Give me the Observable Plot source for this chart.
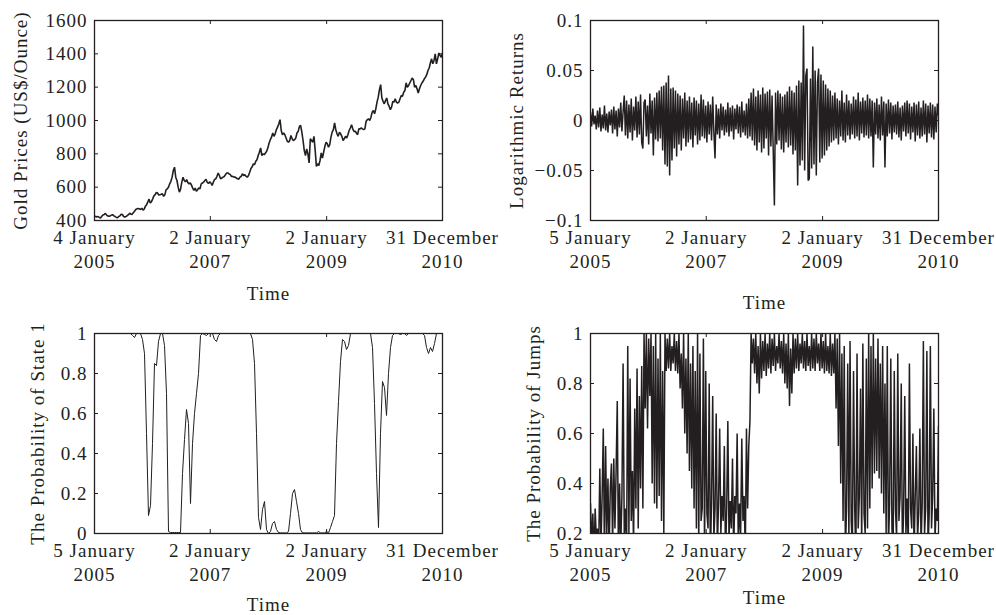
<!DOCTYPE html>
<html><head><meta charset="utf-8">
<script src="https://cdn.jsdelivr.net/npm/d3@7"></script>
<script src="https://cdn.jsdelivr.net/npm/@observablehq/plot@0.6"></script>
<style>
body{margin:0;background:#fff;}
#chart{position:relative;width:996px;height:615px;background:#fff;overflow:hidden;}
.panel{position:absolute;}
</style></head><body><div id="chart"></div>
<script>
// Gold price (US$/ounce), roughly weekly samples, 4 Jan 2005 – 31 Dec 2010
const goldPrices = [
427,423,422,424, 418,415,425,433, 436,443,432,427, 426,427,433,435, 428,424,418,417, 424,428,438,436, 424,421,424,429, 435,444,438,437, 446,455,466,470, 472,470,466,474, 462,468,486,495, 512,528,505,513,
530,548,555,568, 565,553,555,557, 560,545,554,584, 590,600,620,635, 660,700,720,660, 640,600,570,588, 630,660,640,632, 645,627,620,625, 612,594,580,595, 575,585,595,590, 620,625,630,640, 647,628,622,632,
625,610,630,646, 650,665,685,670, 650,655,660,664, 675,685,685,680, 675,664,665,660, 660,655,650,648, 660,665,680,670, 675,665,660,670, 690,712,722,740, 735,755,765,790, 810,835,790,800, 795,805,815,836,
865,885,900,925, 905,920,945,960, 980,1005,940,915, 925,915,895,875, 870,880,910,890, 880,885,895,925, 935,965,970,930, 880,820,790,830, 800,745,890,880, 870,905,820,725, 740,730,760,805, 775,810,845,870,
860,840,855,900, 930,945,985,945, 920,905,930,920, 905,880,890,905, 895,915,940,955, 975,950,935,935, 925,915,950,950, 955,950,945,950, 995,1005,1010,1000, 1020,1050,1060,1040, 1070,1110,1140,1185, 1215,1135,1115,1100,
1120,1135,1100,1085, 1065,1080,1115,1110, 1130,1110,1105,1110, 1130,1150,1145,1170, 1180,1225,1200,1210, 1225,1240,1255,1245, 1200,1210,1190,1165, 1190,1210,1225,1235, 1250,1260,1275,1300, 1315,1345,1370,1340, 1360,1400,1340,1370, 1405,1390,1380,1405
];
// Logarithmic returns, evenly sampled 5 Jan 2005 – 31 Dec 2010
const logReturns = [
0.008,-0.006,0.012,-0.004,0.005,-0.009,0.010,-0.007,0.013,-0.011,
0.006,-0.008,0.015,-0.010,0.007,-0.012,0.009,-0.005,0.011,-0.013,
0.014,-0.009,0.010,-0.016,0.012,-0.007,0.018,-0.011,0.009,
0.025,-0.015,0.020,-0.018,0.016,-0.012,0.022,-0.020,0.014,-0.010,
0.024,-0.017,0.019,-0.014,0.026,-0.022,-0.028,0.018,0.021,-0.016,
0.015,-0.024,0.027,-0.013,0.020,-0.035,0.023,-0.019,0.028,-0.021,
0.030,-0.018,
0.034,-0.030,0.035,-0.044,0.038,-0.046,0.045,-0.055,0.032,-0.040,
0.033,-0.028,0.030,-0.036,0.027,
-0.024,0.025,-0.030,0.022,-0.018,0.028,-0.026,0.020,-0.022,0.024,
-0.019,0.018,-0.027,0.023,-0.015,0.020,-0.024,0.017,-0.020,0.026,
-0.016,0.021,-0.018,0.015,-0.022,0.019,-0.014,0.016,-0.020,0.024,
-0.012,
-0.038,0.016,-0.014,0.012,-0.018,0.017,-0.010,0.014,-0.015,0.011,
-0.012,0.018,-0.016,0.013,-0.011,0.015,-0.019,0.012,-0.009,0.016,
-0.013,0.014,-0.017,0.019,-0.012,0.010,-0.015,0.017,-0.018,0.022,
-0.016,
0.028,-0.020,0.032,-0.025,0.024,-0.030,0.030,-0.022,0.026,-0.032,
0.033,-0.028,0.027,-0.018,0.029,-0.035,0.031,-0.026,0.025,-0.030,
-0.085,0.028,-0.024,0.030,-0.020,0.027,-0.029,0.024,-0.032,0.026,
-0.022,0.029,-0.027,0.034,-0.025,0.030,-0.034,0.028,-0.030,0.035,
-0.065,
0.040,-0.045,0.038,-0.040,0.095,-0.050,0.045,0.052,-0.060,-0.058,
0.042,-0.048,0.074,-0.044,0.050,-0.055,0.038,0.052,-0.042,0.046,
-0.038,0.040,-0.035,0.036,-0.030,0.032,
-0.026,0.030,-0.022,0.025,-0.020,0.028,-0.018,0.022,-0.024,0.020,
-0.016,0.030,-0.020,0.018,-0.022,0.026,-0.015,0.020,-0.019,0.017,
-0.014,0.024,-0.018,0.021,-0.016,0.028,-0.020,0.019,-0.013,0.023,
-0.017,0.020,-0.015,0.026,-0.018,0.022,
-0.016,0.020,-0.047,0.018,-0.014,0.022,-0.018,0.016,-0.020,0.024,
-0.015,0.019,-0.047,0.017,-0.016,0.021,-0.013,0.018,-0.019,0.015,
-0.012,0.016,-0.014,0.019,-0.017,0.013,-0.020,0.015,-0.011,0.018,
-0.016,0.020,-0.013,0.017,-0.019,0.014,-0.012,0.018,-0.021,0.016,
-0.015,0.019,-0.018,0.013,-0.016,0.020,-0.014,0.017,-0.022,0.015,
-0.013,0.018,-0.017,0.016,-0.019,0.014,-0.012,0.017,0.005
];
// Probability of state 1, evenly sampled
const probState1 = [
1,1,1,1,1,1,1,1,1,1,
1,1,1,1,1,1,1,1,1,0.99,
0.98,1,1,1,0.97,0.9,0.5,0.09,0.14,0.45,
0.85,0.84,0.96,1,1,0.94,0.7,0.01,0.005,0.005,
0.005,0.005,0.005,0.005,0.3,0.47,0.62,0.55,0.15,0.45,
0.6,0.7,0.8,0.99,1,0.995,0.99,1,1,1,
0.97,0.96,0.99,1,1,1,1,1,1,1,
1,1,1,1,1,1,1,1,1,0.97,
0.85,0.5,0.08,0.02,0.12,0.16,0.02,0,0.01,0.05,
0.06,0.02,0.005,0.003,0.003,0.003,0.003,0.01,0.1,0.2,
0.22,0.16,0.1,0.02,0.003,0.003,0.003,0.003,0.003,0.003,
0.003,0.003,0.01,0.003,0.003,0.003,0.01,0.003,0.03,0.06,
0.09,0.45,0.66,0.86,0.97,0.96,0.92,0.94,1,1,
1,1,1,1,1,1,1,1,1,0.93,
0.65,0.3,0.03,0.5,0.76,0.73,0.59,0.8,0.93,0.99,
1,1,1,0.995,1,1,0.99,1,1,1,
1,1,1,1,1,0.99,0.93,0.9,0.93,0.91,
0.95,1,1,1,1
];
// Probability of jumps, evenly sampled
const probJumps = [
0.32,0.15,0.28,0.10,0.30,0.18,0.22,0.12,0.46,0.15,
0.35,0.62,0.10,0.55,0.20,0.42,0.12,0.38,0.48,0.15,
0.50,0.22,0.45,0.73,0.10,0.40,0.15,0.35,0.88,0.20,
0.30,0.12,0.95,0.20,0.82,0.25,0.45,0.15,0.70,0.30,
0.86,0.22,0.75,0.38,0.87,0.30,
1.0,0.70,1.0,0.62,0.98,0.75,1.0,0.40,0.95,0.32,
1.0,0.30,0.90,0.35,1.0,0.25,0.85,0.20,
1.0,0.85,0.98,0.86,1.0,0.85,0.95,0.88,1.0,0.85,
0.97,0.84,1.0,0.78,0.92,0.70,1.0,0.60,0.90,0.52,
1.0,0.45,0.88,0.38,0.95,0.30,0.85,0.22,
1.0,0.15,0.92,0.25,0.30,0.98,0.12,0.85,0.28,0.22,
0.80,0.10,0.33,0.75,0.18,0.30,0.68,0.14,0.32,0.62,
0.20,0.35,0.25,0.55,0.10,0.30,0.65,0.18,0.33,0.22,
0.50,0.12,0.35,0.28,0.60,0.15,0.32,0.20,0.58,0.25,
0.35,0.12,0.62,0.30,0.55,0.65,
1.0,0.88,0.98,0.84,1.0,0.80,0.95,0.76,1.0,0.82,
0.97,0.85,1.0,0.83,0.96,0.86,1.0,0.84,0.98,0.87,
1.0,0.85,0.95,0.88,1.0,0.86,0.97,0.84,1.0,0.80,
0.96,0.78,1.0,0.71,0.94,0.76,1.0,0.84,0.98,0.86,
1.0,0.85,0.96,0.88,1.0,0.86,0.97,0.85,1.0,0.87,
0.95,0.85,1.0,0.86,0.98,0.85,1.0,0.88,0.96,0.85,
1.0,0.86,0.97,0.84,1.0,0.85,0.95,0.84,1.0,0.83,0.96,0.84,
1.0,0.70,0.98,0.55,1.0,0.40,0.92,0.25,
0.95,0.12,0.30,0.88,0.18,0.97,0.25,0.15,0.85,0.30,
0.10,0.92,0.22,0.35,0.78,0.14,0.96,0.28,0.20,0.90,
0.22,1.0,0.30,0.95,0.38,1.0,0.44,0.90,0.45,0.98,
0.42,0.88,0.36,0.95,0.28,0.80,0.20,
0.95,0.15,0.32,0.90,0.22,0.12,0.85,0.30,0.18,0.92,
0.25,0.35,0.80,0.12,0.28,0.75,0.20,0.34,0.15,0.88,
0.30,0.22,0.60,0.12,0.35,0.55,0.18,0.28,0.62,0.15,
0.32,0.97,0.20,0.30,0.93,0.14,0.28,0.95,0.22,0.35,
0.70,0.18,0.30,0.25,0.63
];
const goldStart = "2005-01-04";
const returnsStart = "2005-01-05";
const seriesEnd = "2010-12-31";
const innerTickDates = ["2007-01-02", "2009-01-02", "2010-12-31"];
const goldXLabels = ["4 January\n2005", "2 January\n2007", "2 January\n2009", "31 December\n2010"];
const otherXLabels = ["5 January\n2005", "2 January\n2007", "2 January\n2009", "31 December\n2010"];
const goldYTicks = [400, 600, 800, 1000, 1200, 1400, 1600];
const returnYTicks = [-0.1, -0.05, 0, 0.05, 0.1];
const state1YTicks = [0, 0.2, 0.4, 0.6, 0.8, 1];
const jumpsYTicks = [0.2, 0.4, 0.6, 0.8, 1];
const yLabels = ["Gold Prices (US$/Ounce)", "Logarithmic Returns", "The Probability of State 1", "The Probability of Jumps"];
const xLabel = "Time";

const ink = "#231f20";
const FONT = "'Liberation Serif', 'Times New Roman', serif";
const fmt = d => (d < 0 ? "\u2212" : "") + Math.abs(d);

function toSeries(values, start, end) {
  const t0 = +new Date(start), t1 = +new Date(end), n = values.length;
  return values.map((v, i) => ({date: new Date(t0 + i * (t1 - t0) / (n - 1)), value: v}));
}

function panel(o) {
  const t0 = new Date(o.start), t1 = new Date(seriesEnd);
  const xTicks = [t0, ...innerTickDates.map(d => new Date(d))];
  const labelMap = new Map(xTicks.map((d, i) => [+d, o.xLabels[i]]));
  const [y0, y1] = o.yDomain;
  const plotW = 348, plotH = 200;
  const dxT = (t1 - t0) * 4 / plotW, dyT = (y1 - y0) * 4 / plotH;
  const series = toSeries(o.values, o.start, seriesEnd);
  const svg = Plot.plot({
    width: o.width, height: o.height,
    marginLeft: 94, marginRight: o.width - 94 - plotW, marginTop: o.mt, marginBottom: o.height - o.mt - plotH,
    style: {fontFamily: FONT, fontSize: "19px", letterSpacing: "1px", background: "none", overflow: "visible", color: ink},
    x: {type: "utc", domain: [t0, t1]},
    y: {domain: o.yDomain},
    marks: [
      Plot.line(series, {x: "date", y: "value", stroke: ink, strokeWidth: o.sw, clip: true, strokeLinejoin: "miter"}),
      Plot.ruleX(xTicks, {x: d => d, y1: y0, y2: y0 + dyT, stroke: ink}),
      Plot.ruleX(xTicks, {x: d => d, y1: y1 - dyT, y2: y1, stroke: ink}),
      Plot.ruleY(o.yTicks, {y: d => d, x1: t0, x2: new Date(+t0 + dxT), stroke: ink}),
      Plot.ruleY(o.yTicks, {y: d => d, x1: new Date(+t1 - dxT), x2: t1, stroke: ink}),
      Plot.frame({stroke: ink, strokeWidth: 1.3}),
      Plot.axisX({ticks: xTicks, tickFormat: d => labelMap.get(+d), tickSize: 0, tickPadding: 5.5, lineHeight: 1.3, fontSize: 19, fill: ink, label: null}),
      Plot.axisY({ticks: o.yTicks, tickFormat: fmt, tickSize: 0, tickPadding: 7, fontSize: 19, fill: ink, label: null}),
      Plot.text([o.yLabel], {text: d => d, frameAnchor: "left", dx: -o.labelDx, rotate: -90, textAnchor: "middle", lineAnchor: "middle", fontSize: 19, fill: ink}),
      Plot.text([xLabel], {text: d => d, frameAnchor: "bottom", dy: o.timeDy, textAnchor: "middle", lineAnchor: "middle", fontSize: 19, fill: ink})
    ]
  });
  const wrap = document.createElement("div");
  wrap.className = "panel";
  wrap.style.left = o.left + "px";
  wrap.style.top = o.top + "px";
  wrap.style.width = o.width + "px";
  wrap.style.height = o.height + "px";
  wrap.appendChild(svg);
  document.getElementById("chart").appendChild(wrap);
}

panel({values: goldPrices, start: goldStart, yDomain: [400, 1600], yTicks: goldYTicks, yLabel: yLabels[0], xLabels: goldXLabels,
  left: 0, top: 0, width: 498, height: 305, mt: 20, labelDx: 74, timeDy: 73, sw: 1.6});
panel({values: logReturns, start: returnsStart, yDomain: [-0.1, 0.1], yTicks: returnYTicks, yLabel: yLabels[1], xLabels: otherXLabels,
  left: 496, top: 0, width: 500, height: 305, mt: 20, labelDx: 74, timeDy: 82, sw: 1.5});
panel({values: probState1, start: returnsStart, yDomain: [0, 1], yTicks: state1YTicks, yLabel: yLabels[2], xLabels: otherXLabels,
  left: 0, top: 305, width: 498, height: 310, mt: 28, labelDx: 57, timeDy: 71, sw: 1});
panel({values: probJumps, start: returnsStart, yDomain: [0.2, 1], yTicks: jumpsYTicks, yLabel: yLabels[3], xLabels: otherXLabels,
  left: 496, top: 305, width: 500, height: 310, mt: 28, labelDx: 57, timeDy: 64, sw: 1.5});
</script></body></html>
